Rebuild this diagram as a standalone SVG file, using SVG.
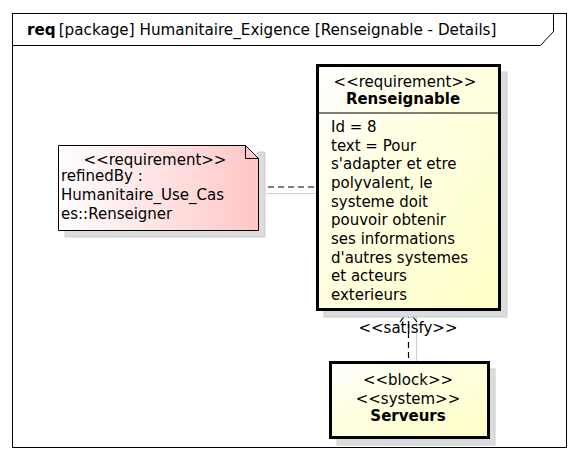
<svg xmlns="http://www.w3.org/2000/svg" width="580" height="460" viewBox="0 0 580 460">
<defs>
<linearGradient id="gY" x1="0" y1="0" x2="1" y2="1">
<stop offset="0" stop-color="#ffffff"/>
<stop offset="0.35" stop-color="#ffffe6"/>
<stop offset="1" stop-color="#ffffc6"/>
</linearGradient>
<linearGradient id="gP" x1="0" y1="0" x2="1" y2="0">
<stop offset="0" stop-color="#ffffff"/>
<stop offset="1" stop-color="#ffc6c6"/>
</linearGradient>
</defs>
<style>
text{font-family:"DejaVu Sans","Liberation Sans",sans-serif;font-size:15px;fill:#000}
.b{font-weight:bold}
.m{text-anchor:middle}
.sh{fill:#dcdcdc;stroke:#cccccc;stroke-width:1}
.thick{stroke:#000;stroke-width:3}
.dash{stroke:#000;stroke-width:1.2;stroke-dasharray:6,4;fill:none}
.gl{stroke:#cfcfcf;stroke-width:1;fill:none}
</style>
<rect width="580" height="460" fill="#fff"/>
<g id="frame">
<rect x="12.5" y="13.5" width="554" height="434" fill="none" stroke="#000" stroke-width="1"/>
<path d="M12.5 45.5 H540.5 L553.5 31.5 V13.5" fill="none" stroke="#000" stroke-width="1"/>
<text x="27" y="35" style="font-size:15.2px"><tspan class="b">req</tspan><tspan dx="3">[package] Humanitaire_Exigence [Renseignable - Details]</tspan></text>
</g>
<g id="connectors">
<line class="gl" x1="266" y1="193.5" x2="317" y2="193.5"/>
<line class="dash" x1="258" y1="187" x2="317" y2="187"/>
<line class="gl" x1="416.5" y1="316" x2="416.5" y2="362"/>
<line class="dash" x1="408.5" y1="312" x2="408.5" y2="362" stroke-dasharray="7,3"/>
<path d="M400 322 L408.5 311 L417 322" fill="none" stroke="#000" stroke-width="1.2"/>
<text class="m" x="408" y="333">&lt;&lt;satisfy&gt;&gt;</text>
</g>
<g id="note">
<path class="sh" d="M265 152 V237 H65 V230 H258 V152 Z" stroke="none"/>
<path d="M58.5 145.5 H245.5 L258.5 158.5 V230.5 H58.5 Z" fill="url(#gP)" stroke="#000" stroke-width="1"/>
<path d="M245.5 145.5 V158.5 H258.5" fill="none" stroke="#000" stroke-width="1"/>
<text class="m" x="155" y="165">&lt;&lt;requirement&gt;&gt;</text>
<text x="61" y="181">refinedBy :</text>
<text x="61" y="200">Humanitaire_Use_Cas</text>
<text x="61" y="219">es::Renseigner</text>
</g>
<g id="renseignable">
<rect class="sh" x="324" y="72" width="183" height="245"/>
<rect x="317.5" y="65.5" width="182" height="244" fill="url(#gY)" class="thick"/>
<line x1="317" y1="113" x2="500" y2="113" stroke="#000" stroke-width="1"/>
<text class="m" x="405" y="87">&lt;&lt;requirement&gt;&gt;</text>
<text class="m b" x="403" y="104">Renseignable</text>
<text x="331" y="132">Id = 8</text>
<text x="331" y="150.7">text = Pour</text>
<text x="331" y="169.3">s'adapter et etre</text>
<text x="331" y="188">polyvalent, le</text>
<text x="331" y="206.7">systeme doit</text>
<text x="331" y="225.3">pouvoir obtenir</text>
<text x="331" y="244">ses informations</text>
<text x="331" y="262.7">d'autres systemes</text>
<text x="331" y="281.3">et acteurs</text>
<text x="331" y="300">exterieurs</text>
</g>
<g id="serveurs">
<rect class="sh" x="337" y="369" width="158" height="76"/>
<rect x="330.5" y="362.5" width="158" height="75" fill="url(#gY)" class="thick"/>
<text class="m" x="408" y="385">&lt;&lt;block&gt;&gt;</text>
<text class="m" x="408" y="404">&lt;&lt;system&gt;&gt;</text>
<text class="m b" x="408" y="421">Serveurs</text>
</g>
</svg>
